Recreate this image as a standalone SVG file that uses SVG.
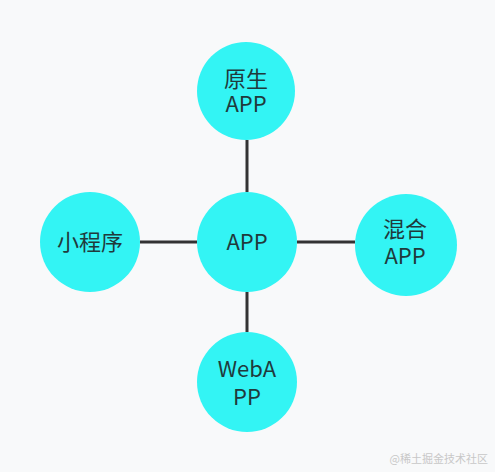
<svg xmlns="http://www.w3.org/2000/svg" width="495" height="472" viewBox="0 0 495 472">
<style>
.n{fill:#33f4f4}
.t{font-family:"Microsoft YaHei","Noto Sans CJK SC",sans-serif;font-size:22px;fill:#203a3c;text-anchor:middle}
.e{stroke:#333;stroke-width:3}
.w{font-family:"Noto Sans CJK SC",sans-serif;font-size:11px;fill:#c8c8c8;text-anchor:end}
</style>
<rect width="495" height="472" fill="#f8f9fa"/>
<g id="edges">
<line class="e" x1="247" y1="140" x2="247" y2="192"/>
<line class="e" x1="140" y1="242" x2="197" y2="242"/>
<line class="e" x1="297" y1="242" x2="355" y2="242"/>
<line class="e" x1="247" y1="292" x2="247" y2="332"/>
</g>
<g id="n-top"><circle class="n" cx="246" cy="91" r="49"/><text class="t" x="246" y="87">原生</text><text class="t" x="246" y="112">APP</text></g>
<g id="n-center"><circle class="n" cx="247" cy="242" r="50"/><text class="t" x="247" y="250">APP</text></g>
<g id="n-left"><circle class="n" cx="90" cy="242" r="50"/><text class="t" x="90" y="250">小程序</text></g>
<g id="n-right"><circle class="n" cx="406" cy="245" r="51"/><text class="t" x="405" y="237">混合</text><text class="t" x="405" y="264">APP</text></g>
<g id="n-bottom"><circle class="n" cx="247" cy="382" r="50"/><text class="t" x="247" y="377">WebA</text><text class="t" x="247" y="405">PP</text></g>
<text class="w" x="488" y="463">@稀土掘金技术社区</text>
</svg>
